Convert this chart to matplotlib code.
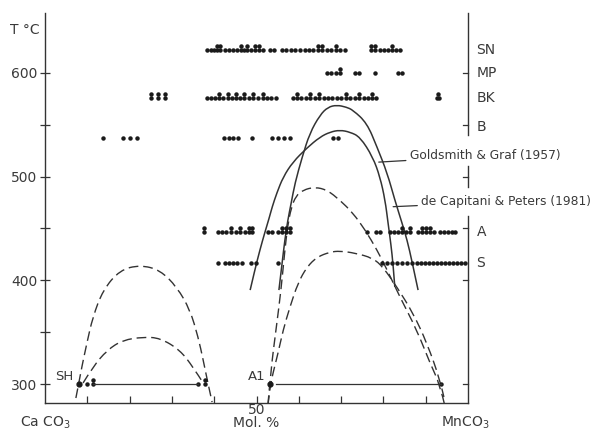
import matplotlib.pyplot as plt
from matplotlib.path import Path
from matplotlib.patches import PathPatch

# Temperaturas das linhas de experimentos (°C)
T_SN, T_MP, T_BK, T_B, T_A, T_S = 622, 600, 576, 537, 447, 417

# Composições (mol % MnCO3) de cada linha; "_st" = pontos empilhados
sn_x = [38.3, 39.2, 40.0, 40.7, 41.4, 42.6, 43.5, 44.4, 45.4, 46.3, 47.0, 47.8, 48.7, 49.6,
        50.6, 51.5, 53.2, 54.1, 56.0, 57.0, 58.2, 59.1, 60.3, 61.5, 62.4, 63.4, 64.5, 65.5,
        66.7, 67.6, 68.8, 69.7, 70.9, 77.1, 78.0, 79.2, 80.1, 81.1, 82.0, 83.0, 83.9]
sn_st = [40.7, 41.4, 46.3, 47.8, 49.6, 50.6, 64.5, 65.5, 68.8, 77.1, 78.0, 82.0]
mp_x = [66.7, 67.6, 68.8, 69.7, 73.3, 74.2, 78.0, 83.5, 84.4]
mp_st = [69.7]
bk_x = [25.0, 26.7, 28.4, 38.3, 39.2, 40.2, 41.1, 42.1, 43.3, 44.2, 45.2, 46.1, 47.0, 48.2,
        49.2, 50.4, 51.5, 52.5, 53.4, 54.6, 58.6, 59.6, 60.5, 61.7, 62.6, 63.8, 64.8, 66.0,
        66.9, 67.8, 69.0, 70.0, 71.2, 72.1, 73.3, 74.2, 75.4, 76.4, 77.3, 78.3, 92.6, 93.2]
bk_st = [25.0, 26.7, 28.4, 41.1, 43.3, 45.2, 47.0, 49.2, 51.5, 59.6, 62.6, 64.8, 71.2, 74.2,
         77.3, 92.9]
b_x = [13.7, 18.4, 20.1, 21.7, 42.3, 43.5, 44.4, 45.6, 48.9, 53.7, 55.1, 56.5, 57.9, 68.1, 69.3]
a_x = [37.6, 40.9, 41.8, 42.8, 44.0, 45.2, 46.1, 47.3, 48.2, 48.9, 52.7, 53.7, 55.1, 56.0,
       57.0, 57.9, 76.1, 78.3, 79.2, 81.6, 82.5, 83.5, 84.4, 85.3, 86.3, 88.2, 89.1, 90.1,
       91.0, 92.0, 93.4, 94.3, 95.3, 96.2, 96.9]
a_st = [37.6, 44.0, 46.1, 48.2, 48.9, 56.0, 57.0, 57.9, 84.4, 86.3, 89.1, 90.1, 91.0]
s_x = [40.9, 42.6, 43.5, 44.4, 45.4, 46.6, 48.7, 49.9, 55.1, 79.7, 80.9, 82.0, 83.2, 84.4,
       85.6, 86.8, 88.0, 88.9, 89.8, 90.8, 91.7, 92.7, 93.6, 94.6, 95.5, 96.5, 97.4, 98.3, 99.3]

# Pontos a 300 °C
p300_x = [9.9, 11.3, 36.2, 37.8, 93.6]
p300_st = [11.3, 37.8]
sh_x, a1_x = 8.0, 53.2

# Curvas (mol %, °C) - pontos de controle
gg_x = [55.3, 56.0, 56.7, 57.4, 58.2, 59.1, 60.8, 62.6, 65.0, 66.9, 69.0, 71.2, 72.8, 76.1,
        78.5, 80.9, 82.7, 84.4, 85.6, 86.8, 88.2]
gg_t = [390.6, 414.8, 438.9, 458.1, 474.5, 493.8, 518.9, 542.0, 559.4, 567.1, 569.0, 567.1,
        564.2, 551.7, 528.5, 503.5, 477.4, 455.3, 438.9, 417.6, 390.6]
cp_x = [48.5, 49.6, 50.8, 52.0, 53.0, 53.7, 54.8, 56.3, 58.6, 61.9, 65.0, 67.4, 69.7, 72.1,
        74.5, 77.5, 79.2, 80.4, 81.1, 81.8, 82.3, 82.7]
cp_t = [390.6, 409.9, 429.2, 446.6, 460.1, 470.7, 484.2, 499.6, 514.1, 527.6, 538.2, 543.0,
        544.9, 543.0, 538.2, 518.9, 499.6, 477.4, 455.3, 434.0, 414.8, 393.5]
d1_x = [52.7, 53.4, 54.6, 55.8, 56.7, 57.4, 58.2, 59.3, 61.0, 63.8, 66.7, 69.7, 72.8, 75.7,
        78.5, 80.9, 83.9, 87.9, 91.0, 93.4, 94.6]
d1_t = [279.7, 313.5, 352.1, 390.6, 429.2, 453.3, 469.7, 481.3, 487.1, 490.0, 487.1, 477.4,
        464.9, 448.5, 429.2, 409.9, 383.9, 352.1, 320.3, 299.0, 277.8]
d2_x = [52.7, 53.2, 53.9, 55.1, 56.3, 57.9, 59.8, 61.9, 64.3, 67.4, 69.7, 73.3, 77.5, 79.9,
        83.2, 87.0, 90.3, 93.4, 94.3]
d2_t = [279.7, 297.1, 310.6, 329.9, 352.1, 374.3, 397.4, 412.8, 422.5, 427.3, 428.3, 426.3,
        421.5, 412.8, 393.5, 368.5, 339.5, 303.9, 287.5]
d3_x = [7.3, 8.0, 8.7, 9.9, 11.3, 13.7, 17.7, 22.5, 27.2, 31.2, 34.3, 36.2, 37.4, 38.5, 39.5]
d3_t = [286.5, 301.0, 316.4, 339.5, 364.6, 390.6, 409.9, 414.8, 409.9, 393.5, 371.4, 345.3,
        323.1, 301.0, 282.6]
d4_x = [9.0, 11.3, 14.7, 18.4, 23.2, 27.2, 31.9, 35.0, 37.4]
d4_t = [301.0, 316.4, 332.8, 342.4, 345.3, 344.4, 332.8, 316.4, 301.0]

row_labels = ['SN', 'MP', 'BK', 'B', 'A', 'S']
row_label_t = [622, 600, 576, 548, 447, 417]

cor = '#333333'
cor_txt = '#3a3a3a'


# curva suave: pontos lidos usados como controles de Bézier quadráticas
def curva(xs, ys):
    verts = [(xs[0], ys[0])]
    codes = [Path.MOVETO]
    for i in range(1, len(xs) - 1):
        if i < len(xs) - 2:
            fim = ((xs[i] + xs[i + 1]) / 2, (ys[i] + ys[i + 1]) / 2)
        else:
            fim = (xs[i + 1], ys[i + 1])
        verts += [(xs[i], ys[i]), fim]
        codes += [Path.CURVE3, Path.CURVE3]
    return Path(verts, codes)


fig = plt.figure(figsize=(6.04, 4.36), dpi=100)
ax = fig.add_axes([45 / 604, 33 / 436, 423 / 604, 390 / 436])
ax.set_xlim(0, 100)
ax.set_ylim(281.7, 657.8)

# linhas de pontos
pts = dict(linestyle='none', marker='o', ms=2.2, color='#1a1a1a', clip_on=False)
for xs, st, t in [(sn_x, sn_st, T_SN), (mp_x, mp_st, T_MP), (bk_x, bk_st, T_BK),
                  (b_x, [], T_B), (a_x, a_st, T_A), (s_x, [], T_S), (p300_x, p300_st, 300)]:
    ax.plot(xs, [t] * len(xs), **pts)
    ax.plot(st, [t + 3.5] * len(st), **pts)
ax.plot([sh_x, a1_x], [300, 300], linestyle='none', marker='o', ms=3.5, color='#1a1a1a')

# tie-lines a 300 °C
ax.plot([11.3, 36.2], [300, 300], color=cor, lw=0.9)
ax.plot([54.5, 93.6], [300, 300], color=cor, lw=0.9)

# curvas
for xs, ts in [(gg_x, gg_t), (cp_x, cp_t)]:
    ax.add_patch(PathPatch(curva(xs, ts), fill=False, edgecolor=cor, lw=1.1))
for xs, ts in [(d1_x, d1_t), (d2_x, d2_t), (d3_x, d3_t), (d4_x, d4_t)]:
    ax.add_patch(PathPatch(curva(xs, ts), fill=False, edgecolor=cor, lw=1.0,
                           linestyle=(0, (7, 3.5))))

# eixos
for s in ['top', 'right']:
    ax.spines[s].set_visible(False)
for s in ['left', 'bottom']:
    ax.spines[s].set_color(cor)
    ax.spines[s].set_linewidth(1.0)
ax.set_yticks([300, 400, 500, 600])
ax.set_yticks([350, 450, 550], minor=True)
ax.set_xticks(range(10, 100, 10))
ax.set_xticklabels(['', '', '', '', '50', '', '', '', ''])
ax.set_xticks([], minor=True)
ax.tick_params(axis='y', which='both', direction='inout', length=7, width=0.9, colors=cor,
               labelsize=10, labelcolor=cor_txt, pad=2)
ax.tick_params(axis='x', direction='in', length=5, width=0.9, colors=cor,
               labelsize=10, labelcolor=cor_txt, pad=0)

# eixo da direita (interrompido)
for t0, t1 in [(540, 657.8), (490, 510), (281.7, 462)]:
    ax.plot([100, 100], [t0, t1], color=cor, lw=1.0, clip_on=False)
for t in [600, 550, 500, 450, 400, 300]:
    ax.plot([98.8, 100], [t, t], color=cor, lw=0.9, clip_on=False)
for lab, t in zip(row_labels, row_label_t):
    ax.text(102.0, t, lab, fontsize=10, color=cor_txt, va='center', ha='left')

# textos
ax.text(-4.7, 641.4, 'T °C', fontsize=10, color=cor_txt, ha='center', va='center')
ax.text(0, 262.4, 'Ca CO$_3$', fontsize=10, color=cor_txt, ha='center', va='center')
ax.text(50, 262.4, 'Mol. %', fontsize=10, color=cor_txt, ha='center', va='center')
ax.text(99.3, 262.4, 'MnCO$_3$', fontsize=10, color=cor_txt, ha='center', va='center')
ax.text(6.6, 307.5, 'SH', fontsize=9.5, color=cor_txt, ha='right', va='center')
ax.text(52.2, 307.5, 'A1', fontsize=9.5, color=cor_txt, ha='right', va='center')

ax.annotate('Goldsmith & Graf (1957)', xy=(78.9, 514), xytext=(86.3, 520),
            fontsize=8.8, color=cor_txt, va='center', annotation_clip=False,
            arrowprops=dict(arrowstyle='-', color=cor, lw=0.9, shrinkA=1, shrinkB=0))
ax.annotate('de Capitani & Peters (1981)', xy=(82.3, 471), xytext=(89.0, 476),
            fontsize=8.8, color=cor_txt, va='center', annotation_clip=False,
            arrowprops=dict(arrowstyle='-', color=cor, lw=0.9, shrinkA=1, shrinkB=0))

plt.savefig('out.png', dpi=100)
